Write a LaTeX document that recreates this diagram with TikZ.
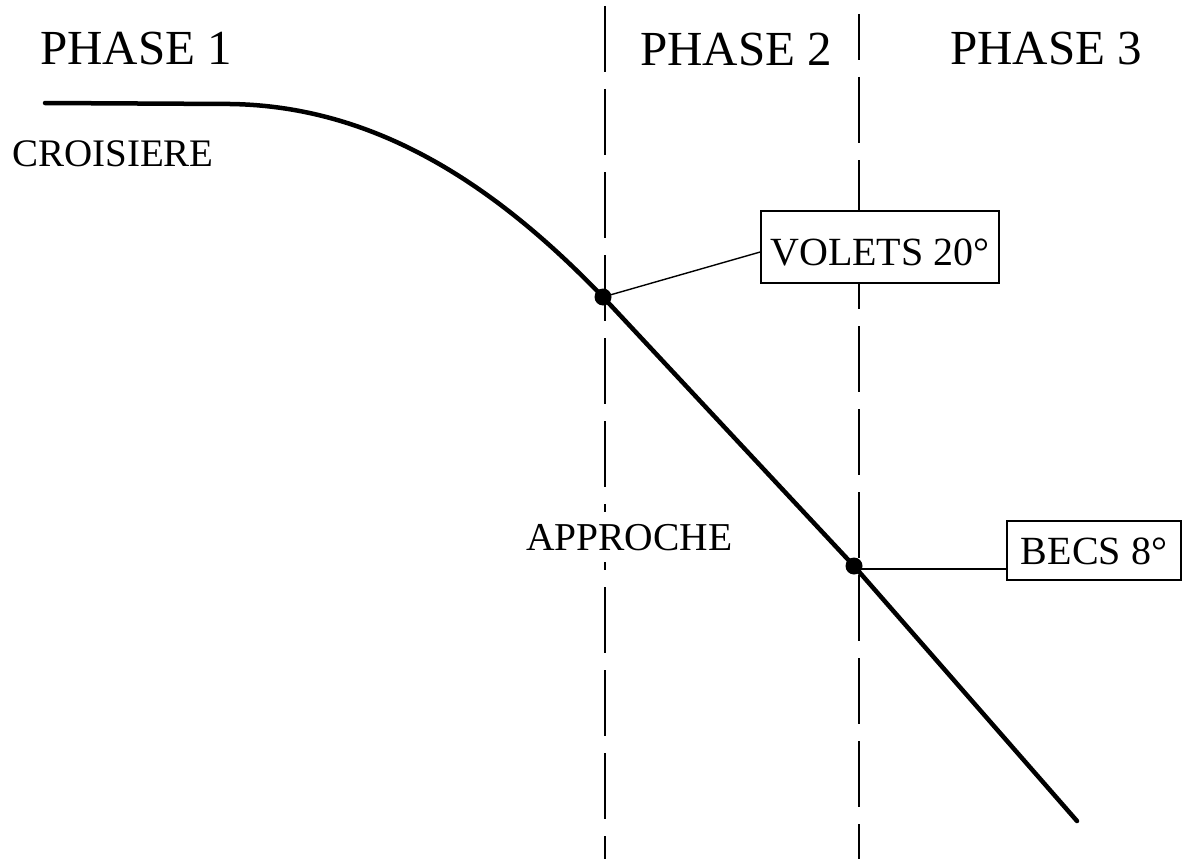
\documentclass[tikz,border=0pt]{standalone}
\usepackage{fontspec}
\setmainfont{Liberation Serif}
\begin{document}
\begin{tikzpicture}[x=1pt,y=-1pt,
  phase/.style={font=\fontsize{49}{55}\selectfont, anchor=base west, inner sep=0pt},
  lbl/.style={font=\fontsize{39}{45}\selectfont, anchor=base west, inner xsep=0pt, inner ysep=12pt, fill=white},
  tag/.style={draw, line width=1.6pt, fill=white, font=\fontsize{40}{46}\selectfont,
              inner xsep=0pt, inner ysep=0pt, anchor=base},
  divider/.style={line width=2pt, dash pattern=on 66pt off 17pt},
  profile/.style={line width=4.5pt, line join=round, line cap=round},
  dotnode/.style={circle, fill=black, inner sep=0pt, minimum size=17pt},
  link/.style={line width=1.4pt}]
\useasboundingbox (0,0) rectangle (1184,859);
\fill[white] (0,0) rectangle (1184,859);

% phase dividers
\coordinate (l1top) at (605,6);
\coordinate (l1bot) at (605,859);
\coordinate (l2top) at (859,14);
\coordinate (l2bot) at (859,859);
\draw[divider] (l1top) -- (l1bot);
\draw[divider, dash phase=20pt] (l2top) -- (l2bot);

% titles
\node[phase] (p1) at (40,65) {PHASE 1};
\node[phase] (p2) at (640,66) {PHASE 2};
\node[phase] (p3) at (950,65) {PHASE 3};

% labels
\node[lbl] (cro) at (12,166) {CROISIERE};
\node[lbl, font=\fontsize{39.5}{45}\selectfont] (app) at (526,550) {APPROCHE};

% descent profile
\coordinate (start) at (45,103);
\coordinate (flat) at (230,104);
\coordinate (endp) at (1077,821);
\node[dotnode] (d1) at (603,297) {};
\node[dotnode] (d2) at (854,566) {};
\draw[profile] (start) -- (flat) .. controls (380,106) and (500,190) .. (d1.center) -- (d2.center) -- (endp);

% callouts
\node[tag, text height=54pt, text depth=18pt, minimum width=238pt] (volets) at (880,265) {VOLETS 20°};
\node[tag, text height=43pt, text depth=16pt, minimum width=174pt] (becs) at (1094,564) {BECS 8°};
\draw[link] (d1.center) -- ([yshift=-5pt]volets.west);
\draw[link] ([yshift=-3pt]d2.center) -- ([yshift=-3pt]d2.center -| becs.west);
\end{tikzpicture}
\end{document}
